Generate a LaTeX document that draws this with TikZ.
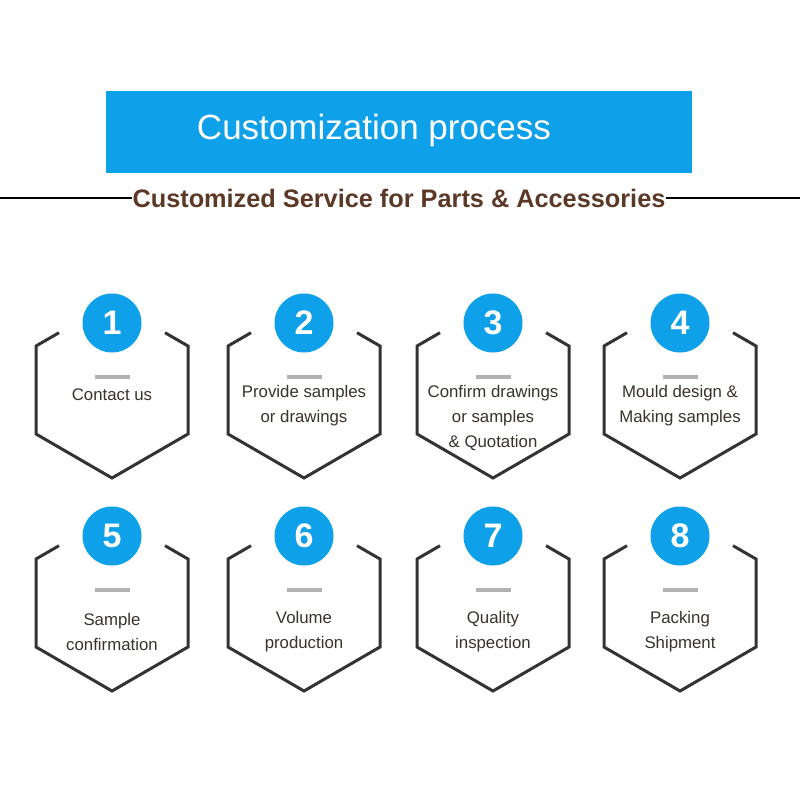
\documentclass[tikz,border=0pt]{standalone}
\usepackage{fontspec}
\setmainfont{Liberation Sans}
\definecolor{stepblue}{RGB}{14,160,232}
\definecolor{hexgray}{RGB}{51,51,51}
\definecolor{bargray}{RGB}{178,178,178}
\definecolor{labelbrown}{RGB}{58,50,44}
\definecolor{titlebrown}{RGB}{92,56,38}
\tikzset{
  hexline/.style={hexgray, line width=3pt, line join=miter},
  numcircle/.style={circle, fill=stepblue, minimum size=59pt, inner sep=0pt, text=white, font=\fontsize{34}{34}\selectfont\bfseries},
  dashbar/.style={bargray, line width=4pt},
  steplabel/.style={align=center, text=labelbrown, font=\fontsize{16.8}{25}\selectfont},
}
\begin{document}
\begin{tikzpicture}[x=1pt, y=-1pt]
            \useasboundingbox[fill=white] (0,0) rectangle (800,800);

            % header
            \fill[stepblue] (106,91) rectangle (692,173);
            \node[text=white, font=\fontsize{35}{35}\selectfont] (title) at (374,130) {Customization process};
            \node[inner sep=0pt, text=titlebrown, font=\fontsize{25.3}{25.3}\selectfont\bfseries] (subtitle) at (399,198) {Customized Service for Parts \& Accessories};
            \draw[line width=2pt] (0,198) -- (subtitle.west);
            \draw[line width=2pt] (subtitle.east) -- (800,198);

            % hexagons
            \foreach \cx/\cy/\n in {112/390/1, 304/390/2, 493/390/3, 680/390/4, 112/603/5, 304/603/6, 493/603/7, 680/603/8} {
                \draw[hexline] ({\cx-53},{\cy-57.3}) -- ({\cx-76},{\cy-44}) -- ({\cx-76},{\cy+44}) -- ({\cx},{\cy+88}) -- ({\cx+76},{\cy+44}) -- ({\cx+76},{\cy-44}) -- ({\cx+53},{\cy-57.3});
                \node[numcircle] (num\n) at ({\cx},{\cy-67}) {\n};
                \draw[dashbar] ({\cx-17.5},{\cy-13}) -- ({\cx+17.5},{\cy-13});
            }

            % labels
            \node[steplabel] (label1) at (112,395) {Contact us};
            \node[steplabel] (label2) at (304,406) {Provide samples\\or drawings};
            \node[steplabel] (label3) at (493,418) {Confirm drawings\\or samples\\\& Quotation};
            \node[steplabel] (label4) at (680,406) {Mould design \&\\Making samples};
            \node[steplabel] (label5) at (112,632) {Sample\\confirmation};
            \node[steplabel] (label6) at (304,632) {Volume\\production};
            \node[steplabel] (label7) at (493,632) {Quality\\inspection};
            \node[steplabel] (label8) at (680,632) {Packing\\Shipment};
        \end{tikzpicture}
\end{document}
